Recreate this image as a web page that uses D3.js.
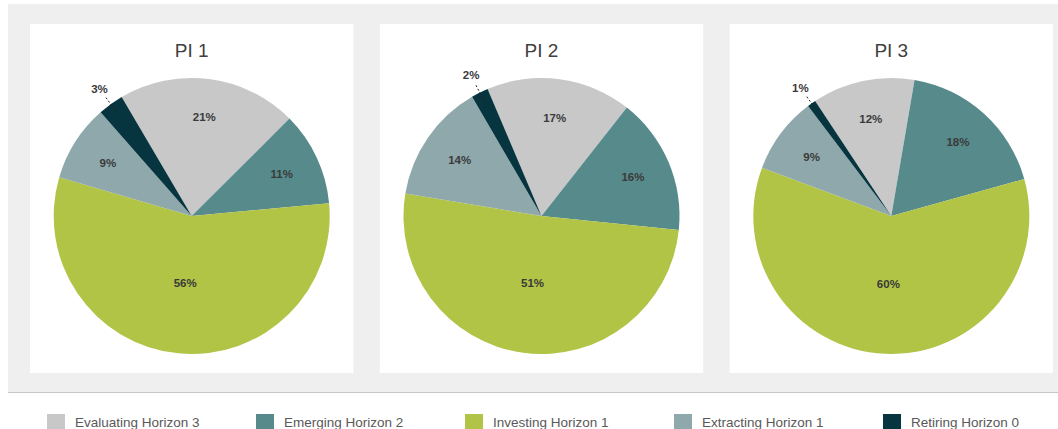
<!DOCTYPE html>
<html>
<head>
<meta charset="utf-8">
<script src="https://cdn.jsdelivr.net/npm/d3@7"></script>
<style>
  html, body { margin: 0; padding: 0; background: #ffffff; }
  svg { display: block; font-family: "Liberation Sans", Arial, sans-serif; }
</style>
</head>
<body>
<svg id="chart" width="1058" height="429"></svg>
<script>
// ---- data ----
const categories = ["Evaluating Horizon 3", "Emerging Horizon 2", "Investing Horizon 1", "Extracting Horizon 1", "Retiring Horizon 0"];
const chartTitles = ["PI 1", "PI 2", "PI 3"];
const pi1Values = [21, 11, 56, 9, 3];
const pi2Values = [17, 16, 51, 14, 2];
const pi3Values = [12, 18, 60, 9, 1];
const seriesValues = [pi1Values, pi2Values, pi3Values];

// ---- styling / layout config ----
const colors = ["#c8c8c8", "#568a8b", "#b1c445", "#8fa8ab", "#06343f"];
const rotationsDeg = [-30.5, -23, -33.5]; // start angle of first slice, per pie

const W = 1058, H = 429;
const svg = d3.select("#chart");

// outer grey area
svg.append("rect").attr("x", 8).attr("y", 4).attr("width", W - 8).attr("height", 388).attr("fill", "#efefef");
svg.append("line").attr("x1", 8).attr("x2", W).attr("y1", 392.5).attr("y2", 392.5)
  .attr("stroke", "#c6c6c6").attr("stroke-width", 1);

// panels
const panelX = d3.scaleBand().domain(d3.range(3)).range([30, 1053]).paddingInner(0.0755);
const panelTop = 24, panelH = 349;
const color = d3.scaleOrdinal().domain(categories).range(colors);

const pie = d3.pie().sort(null).value(d => d.value);
const R = 138;
const arc = d3.arc().innerRadius(0).outerRadius(R);

seriesValues.forEach((vals, i) => {
  const px = panelX(i), pw = panelX.bandwidth();
  const g = svg.append("g");
  g.append("rect").attr("x", px).attr("y", panelTop).attr("width", pw).attr("height", panelH).attr("fill", "#ffffff");
  const cx = px + pw / 2, cy = panelTop + 192;

  g.append("text").attr("x", cx).attr("y", 57).attr("text-anchor", "middle")
    .attr("font-size", 19).attr("fill", "#404040").text(chartTitles[i]);

  const rot = rotationsDeg[i] * Math.PI / 180;
  const data = categories.map((c, k) => ({ cat: c, value: vals[k] }));
  const arcs = pie.startAngle(rot).endAngle(rot + 2 * Math.PI)(data);

  const pg = g.append("g").attr("transform", `translate(${cx},${cy})`);
  pg.selectAll("path").data(arcs).enter().append("path")
    .attr("d", arc).attr("fill", d => color(d.data.cat));

  const pos = (a, f) => [Math.sin(a) * R * f, -Math.cos(a) * R * f];

  arcs.forEach(d => {
    const mid = (d.startAngle + d.endAngle) / 2;
    let f;
    if (d.data.value < 5) {
      f = 1.14;
      const p1 = pos(mid, 0.9), p2 = pos(mid, 1.06);
      pg.append("line").attr("x1", p1[0]).attr("y1", p1[1]).attr("x2", p2[0]).attr("y2", p2[1])
        .attr("stroke", "#222").attr("stroke-width", 1).attr("stroke-dasharray", "2,2");
    } else if (d.data.value >= 40) {
      f = 0.49;
    } else {
      f = 0.72;
    }
    const p = pos(mid, f);
    pg.append("text").attr("x", p[0]).attr("y", p[1]).attr("dy", "0.35em")
      .attr("text-anchor", "middle").attr("font-size", 11.5).attr("font-weight", "bold")
      .attr("fill", "#3a3a3a").text(d.data.value + "%");
  });
});

// legend
const legX = d3.scalePoint().domain(categories).range([47, 883]);
const leg = svg.append("g");
categories.forEach(c => {
  const x = legX(c);
  leg.append("rect").attr("x", x).attr("y", 414).attr("width", 18).attr("height", 17).attr("fill", color(c));
  leg.append("text").attr("x", x + 28).attr("y", 422).attr("dy", "0.35em")
    .attr("font-size", 13.5).attr("fill", "#595959").text(c);
});
</script>
</body>
</html>
